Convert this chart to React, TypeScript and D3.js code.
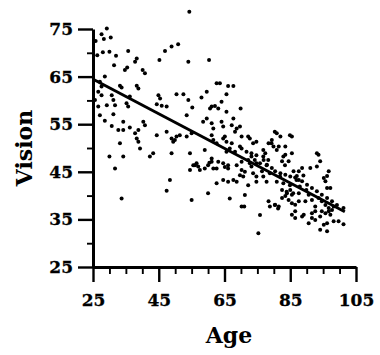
import React, { useEffect, useRef } from "react";
import * as d3 from "d3";

// [age, vision]
const subjects: [number, number][] = [
  [29.2, 75.1], [27.6, 73.9], [30.4, 73.2], [28.3, 72.9], [28.0, 70.1], [30.0, 70.2],
  [32.0, 69.4], [35.7, 70.4], [31.4, 67.4], [38.3, 68.8], [37.8, 68.1], [35.4, 66.9],
  [34.7, 66.4], [40.1, 66.4], [40.8, 65.7], [45.2, 68.5], [46.9, 70.4], [48.9, 71.3],
  [50.9, 71.8], [54.0, 68.1], [28.6, 65.0], [38.3, 63.1], [38.8, 62.5], [33.2, 63.1],
  [33.7, 62.7], [27.1, 63.9], [27.6, 62.9], [26.6, 61.8], [27.6, 61.1], [30.7, 61.1],
  [31.2, 60.1], [36.2, 60.8], [35.2, 59.4], [35.7, 58.7], [29.2, 59.0], [31.7, 59.0],
  [44.9, 61.1], [45.4, 60.4], [44.4, 59.2], [45.9, 58.9], [47.4, 58.7], [50.4, 61.3],
  [52.5, 61.3], [54.0, 60.1], [27.1, 56.9], [31.2, 57.1], [28.6, 55.7], [40.3, 55.5],
  [34.2, 55.5], [53.5, 56.9], [25.6, 60.1], [26.6, 58.7], [26.3, 69.5], [25.8, 72.5],
  [30.7, 54.6], [32.7, 53.8], [34.2, 53.8], [36.2, 54.3], [38.8, 53.8], [37.8, 53.1],
  [38.3, 52.0], [38.8, 51.3], [40.8, 54.8], [33.2, 51.0], [39.3, 49.9], [44.4, 52.7],
  [47.4, 53.4], [48.9, 52.0], [49.9, 51.7], [48.9, 48.9], [43.3, 48.9], [42.3, 48.2],
  [30.0, 48.2], [34.2, 48.2], [31.7, 45.7], [48.4, 43.3], [47.4, 41.0], [33.7, 39.4],
  [54.3, 78.6], [60.3, 68.5], [62.6, 63.6], [63.6, 63.6], [66.1, 63.0], [67.7, 63.0],
  [58.0, 60.6], [59.6, 61.8], [65.6, 61.3], [64.1, 59.7], [62.1, 58.8], [61.1, 58.7],
  [60.6, 58.3], [63.1, 58.3], [65.6, 57.6], [69.9, 58.3], [55.2, 58.5], [59.6, 56.2],
  [58.5, 55.5], [61.1, 55.2], [61.6, 54.1], [64.1, 55.5], [64.6, 54.5], [67.7, 56.2],
  [67.2, 54.8], [68.7, 54.1], [68.2, 53.4], [69.7, 54.5], [53.5, 52.4], [55.0, 53.1],
  [61.1, 52.7], [65.1, 52.4], [70.2, 52.4], [72.2, 52.4], [80.3, 53.4], [72.7, 52.0],
  [74.7, 51.3], [61.6, 51.7], [62.6, 51.0], [64.6, 52.0], [65.6, 51.3], [67.2, 51.0],
  [66.6, 49.9], [68.2, 49.2], [65.6, 49.2], [70.2, 49.9], [71.7, 49.2], [73.2, 48.9],
  [74.7, 48.5], [76.8, 48.2], [78.3, 47.5], [54.5, 48.9], [59.0, 49.6], [56.0, 46.4],
  [57.0, 46.1], [60.0, 46.4], [61.1, 47.1], [61.6, 45.7], [64.6, 46.8], [66.1, 46.4],
  [68.7, 46.4], [70.2, 47.1], [72.2, 47.5], [73.2, 46.1], [75.8, 46.8], [77.8, 46.4],
  [49.4, 51.3], [50.4, 52.4], [51.4, 52.7], [61.1, 47.8], [60.4, 46.9], [56.5, 46.8],
  [55.5, 46.4], [54.5, 45.4], [57.5, 45.4], [59.0, 45.7], [63.1, 47.1], [62.6, 45.7],
  [65.1, 46.0], [66.1, 45.7], [70.2, 45.4], [69.7, 44.3], [70.7, 44.0], [71.2, 45.0],
  [64.6, 43.3], [66.1, 42.9], [67.7, 43.3], [68.7, 42.9], [62.6, 42.6], [55.0, 39.1],
  [60.0, 40.5], [66.6, 39.4], [71.2, 40.1], [70.2, 37.7], [71.0, 37.7], [73.2, 48.2],
  [74.2, 47.5], [72.7, 46.8], [74.7, 46.8], [73.7, 44.7], [74.7, 44.0], [75.3, 32.1],
  [75.8, 35.9], [78.8, 37.7], [80.3, 38.0], [81.3, 37.3], [73.7, 51.0], [76.8, 49.6],
  [69.7, 50.3], [76.8, 44.0], [77.8, 42.9], [74.7, 42.9], [72.2, 42.2],
  [80.9, 53.1], [82.0, 52.4], [79.4, 51.7], [78.4, 51.0], [85.5, 52.4], [79.9, 50.3],
  [81.5, 50.3], [83.5, 50.3], [80.9, 49.6], [85.5, 48.9], [83.5, 48.6], [82.5, 47.2],
  [84.5, 47.2], [77.4, 48.9], [76.9, 47.5], [77.9, 46.5], [76.4, 45.1], [79.4, 45.8],
  [80.4, 45.1], [82.0, 44.7], [83.5, 44.4], [85.0, 44.0], [86.5, 43.8], [87.6, 43.3],
  [88.6, 43.0], [90.1, 42.3], [91.6, 41.6], [93.1, 40.9], [94.6, 40.2], [96.2, 39.5],
  [97.7, 38.8], [99.2, 38.0], [86.0, 45.1], [87.6, 45.1], [88.6, 45.8], [87.0, 44.1],
  [89.0, 44.2], [91.1, 45.8], [93.1, 46.1], [94.1, 47.2], [93.6, 48.6], [93.1, 48.9],
  [96.7, 45.1], [96.2, 44.1], [95.7, 43.0], [95.2, 43.7], [97.2, 41.6], [96.2, 41.6],
  [93.6, 39.5], [94.6, 38.8], [95.7, 38.0], [96.7, 37.4], [97.7, 37.0], [98.2, 37.7],
  [101.2, 37.4], [94.6, 36.7], [95.7, 36.3], [96.7, 36.7], [97.2, 36.0], [94.1, 35.6],
  [91.6, 35.3], [92.6, 34.9], [90.6, 34.2], [95.2, 33.9], [96.2, 34.2], [98.2, 34.6],
  [99.7, 34.6], [101.2, 34.0], [94.1, 32.8], [96.2, 32.5], [78.4, 38.8], [80.4, 38.1],
  [81.5, 37.7], [82.5, 39.5], [83.5, 39.9], [84.5, 39.1], [85.5, 38.4], [86.5, 38.1],
  [87.6, 38.8], [86.5, 36.7], [85.5, 36.0], [86.5, 35.3], [88.6, 35.6], [82.5, 41.2],
  [84.0, 40.5], [85.0, 41.2], [85.5, 40.2], [90.6, 40.2], [91.6, 39.1], [92.6, 37.7],
  [89.6, 38.8], [87.6, 40.5], [89.1, 36.0], [91.6, 36.3], [92.6, 36.7], [78.8, 44.7],
  [81.9, 44.0], [80.9, 42.9], [82.9, 42.6], [84.9, 42.2], [86.9, 43.3], [87.9, 41.9],
  [89.9, 41.2], [85.9, 40.5], [83.9, 40.8], [79.3, 51.0], [84.9, 52.7], [82.9, 48.2],
  [83.4, 46.4],
];

// fitted regression line, end points
const fitAges = [25.2, 101.6];
const fitVision = [64.4, 36.6];

const xMajorTicks = [25, 45, 65, 85, 105];
const xMinorTicks = [30, 35, 40, 50, 55, 60, 70, 75, 80, 90, 95, 100];
const yMajorTicks = [25, 35, 45, 55, 65, 75];
const yMinorTicks = [30, 40, 50, 60, 70];

const App: React.FC = () => {
  const ref = useRef<SVGSVGElement>(null);

  useEffect(() => {
    const svg = d3.select(ref.current);
    svg.selectAll("*").remove();

    const font = "'DejaVu Serif', serif";
    const x = d3.scaleLinear().domain([25, 105]).range([93, 356]);
    const y = d3.scaleLinear().domain([25, 75]).range([267, 29]);

    // minor ticks
    svg
      .append("g")
      .attr("transform", "translate(0,267)")
      .call(d3.axisBottom(x).tickValues(xMinorTicks).tickSize(7).tickFormat(() => ""))
      .call((g: any) => g.select(".domain").remove())
      .call((g: any) => g.selectAll("line").attr("stroke-width", 1.9));
    svg
      .append("g")
      .attr("transform", "translate(93,0)")
      .call(d3.axisLeft(y).tickValues(yMinorTicks).tickSize(6).tickFormat(() => ""))
      .call((g: any) => g.select(".domain").remove())
      .call((g: any) => g.selectAll("line").attr("stroke-width", 1.9));

    // major ticks + labels
    const xAxis = svg
      .append("g")
      .attr("transform", "translate(0,267)")
      .call(
        d3.axisBottom(x).tickValues(xMajorTicks).tickSize(15).tickSizeOuter(0).tickPadding(12)
      );
    const yAxis = svg
      .append("g")
      .attr("transform", "translate(93,0)")
      .call(
        d3.axisLeft(y).tickValues(yMajorTicks).tickSize(15).tickSizeOuter(0).tickPadding(5)
      );

    [xAxis, yAxis].forEach((g: any) => {
      g.select(".domain").attr("stroke-width", 3);
      g.selectAll("line").attr("stroke-width", 2.4);
      g.selectAll("text")
        .attr("font-family", font)
        .attr("font-size", 17)
        .attr("font-weight", "bold")
        .attr("fill", "#000")
        .attr("stroke", "#000")
        .attr("stroke-width", 0.3);
    });

    // points
    svg
      .append("g")
      .selectAll("circle")
      .data(subjects)
      .join("circle")
      .attr("cx", (d) => x(d[0]))
      .attr("cy", (d) => y(d[1]))
      .attr("r", 2)
      .attr("fill", "#000");

    // regression line
    const line = d3
      .line<number>()
      .x((d) => x(fitAges[d]))
      .y((d) => y(fitVision[d]));
    svg
      .append("path")
      .attr("d", line([0, 1]) as string)
      .attr("fill", "none")
      .attr("stroke", "#000")
      .attr("stroke-width", 3);

    // axis titles
    svg
      .append("text")
      .attr("x", 229)
      .attr("y", 343)
      .attr("text-anchor", "middle")
      .attr("font-family", font)
      .attr("font-size", 22)
      .attr("font-weight", "bold")
      .text("Age");
    svg
      .append("text")
      .attr("transform", "translate(32,148) rotate(-90)")
      .attr("text-anchor", "middle")
      .attr("font-family", font)
      .attr("font-size", 22)
      .attr("font-weight", "bold")
      .text("Vision");
  }, []);

  return (
    <svg
      ref={ref}
      width={380}
      height={355}
      style={{ position: "absolute", left: 0, top: 0, background: "#fff" }}
    />
  );
};

export default App;
